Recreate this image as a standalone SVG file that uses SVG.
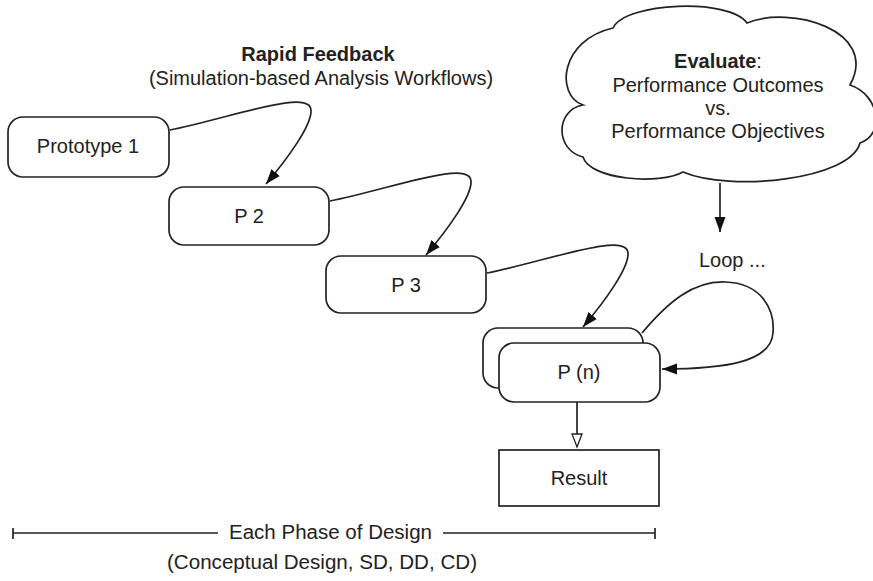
<svg xmlns="http://www.w3.org/2000/svg" width="873" height="581" viewBox="0 0 873 581">
<style>
text{font-family:"Liberation Sans",Arial,sans-serif;fill:#222;font-size:20px}
.c{text-anchor:middle}
.b{font-weight:bold}
.box{fill:#fff;stroke:#222;stroke-width:1.7}
.ln{fill:none;stroke:#222;stroke-width:1.7}
</style>
<defs>
<marker id="ah" markerUnits="userSpaceOnUse" markerWidth="16" markerHeight="12" refX="15" refY="5.5" orient="auto">
<path d="M0,0 L15,5.5 L0,11 Z" fill="#111"/>
</marker>
<marker id="oh" markerUnits="userSpaceOnUse" markerWidth="16" markerHeight="13" refX="14" refY="5.5" orient="auto">
<path d="M1,0.5 L14,5.5 L1,10.5 Z" fill="#fff" stroke="#222" stroke-width="1.3"/>
</marker>
</defs>
<g id="title">
<text class="c b" x="318" y="61">Rapid Feedback</text>
<text class="c" x="321" y="85">(Simulation-based Analysis Workflows)</text>
</g>
<g id="prototype1">
<rect class="box" x="8" y="117" width="161" height="60" rx="15"/>
<text class="c" x="88" y="153">Prototype 1</text>
</g>
<g id="p2">
<rect class="box" x="169" y="187" width="160" height="58" rx="15"/>
<text class="c" x="249" y="223">P 2</text>
</g>
<g id="p3">
<rect class="box" x="326" y="256" width="160" height="57" rx="15"/>
<text class="c" x="406" y="292">P 3</text>
</g>
<g id="pn">
<rect class="box" x="483" y="328" width="160" height="60" rx="15"/>
<rect class="box" x="499" y="343" width="161" height="59" rx="15"/>
<text class="c" x="579" y="379">P (n)</text>
</g>
<g id="result">
<rect class="box" x="499" y="450" width="160" height="56"/>
<text class="c" x="579" y="485">Result</text>
</g>
<g id="evaluate">
<path class="box" d="M613,28 C625,2 730,-2 747,23 C790,5 880,30 850,85 C880,95 885,135 860,143 C850,180 730,192 683,172 C660,185 590,180 583,157 C555,150 555,110 583,105 C555,95 560,40 613,28 Z"/>
<text class="c" x="718" y="68"><tspan class="b">Evaluate</tspan>:</text>
<text class="c" x="718" y="92">Performance Outcomes</text>
<text class="c" x="718" y="115">vs.</text>
<text class="c" x="718" y="138">Performance Objectives</text>
</g>
<g id="loop">
<text x="699" y="267">Loop ...</text>
</g>
<g id="connectors">
<path class="ln" d="M170,130 C230,118 310,88 311,110 C312,125 288,158 266,184" marker-end="url(#ah)"/>
<path class="ln" d="M330,201 C390,189 470,159 471,181 C472,196 448,229 426,255" marker-end="url(#ah)"/>
<path class="ln" d="M487,273 C547,261 627,231 628,253 C629,268 605,301 583,327" marker-end="url(#ah)"/>
<path class="ln" d="M642,333 C668,302 693,281 725,282 C762,283 775,310 773,333 C771,362 725,369 662,369" marker-end="url(#ah)"/>
<path class="ln" d="M720,183 L720,232" marker-end="url(#ah)"/>
<path class="ln" d="M577,402 L577,447" marker-end="url(#oh)"/>
</g>
<g id="phase">
<path class="ln" d="M13,533 H218 M443,533 H655 M13,528 V539 M655,528 V539"/>
<text x="229" y="539" font-size="18" textLength="203" lengthAdjust="spacingAndGlyphs">Each Phase of Design</text>
<text x="167" y="569" font-size="18" textLength="310" lengthAdjust="spacingAndGlyphs">(Conceptual Design, SD, DD, CD)</text>
</g>
</svg>
